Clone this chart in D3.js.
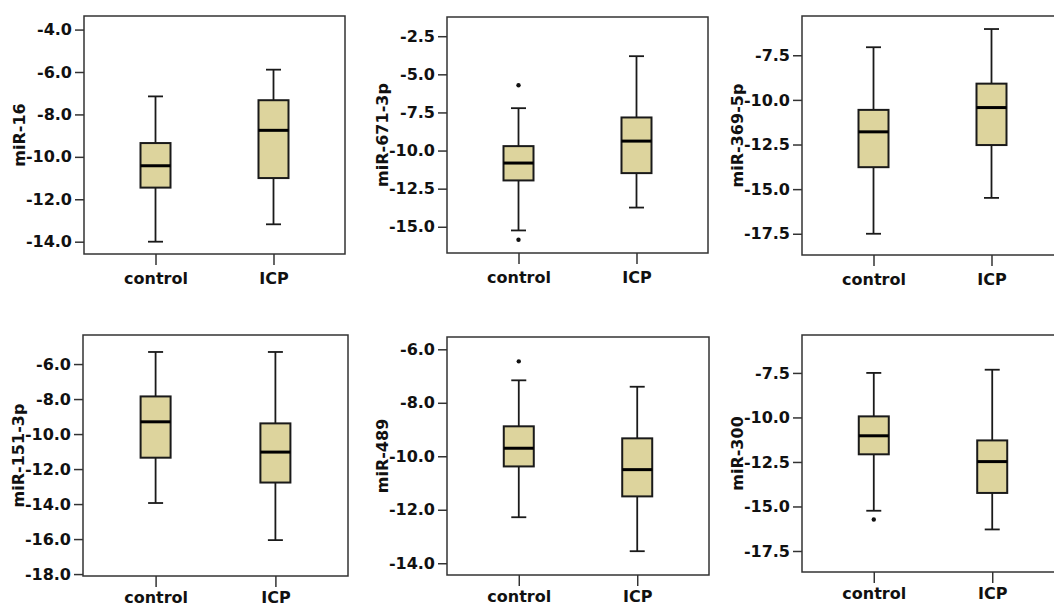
<!DOCTYPE html>
<html>
<head>
<meta charset="utf-8">
<script src="https://cdn.jsdelivr.net/npm/d3@7"></script>
<style>
  body { margin: 0; background: white; }
  svg { display: block; }
  text { font-family: "DejaVu Sans", "Liberation Sans", Arial, sans-serif; font-weight: bold; fill: #111; }
</style>
</head>
<body>
<svg id="svg1"></svg>
<script>
// data
var groups = ["control", "ICP"];
var mirnas = ["miR-16", "miR-671-3p", "miR-369-5p", "miR-151-3p", "miR-489", "miR-300"];

// [lower whisker, Q1, median, Q3, upper whisker]
var controlStats = [
  [-14.0, -11.45, -10.42, -9.35, -7.15],
  [-15.24, -11.96, -10.82, -9.71, -7.22],
  [-17.5, -13.77, -11.79, -10.56, -7.05],
  [-13.94, -11.35, -9.3, -7.85, -5.31],
  [-12.28, -10.38, -9.70, -8.88, -7.16],
  [-15.24, -12.07, -11.03, -9.94, -7.5]
];
var icpStats = [
  [-13.18, -11.0, -8.75, -7.33, -5.89],
  [-13.74, -11.48, -9.38, -7.83, -3.81],
  [-15.49, -12.53, -10.43, -9.09, -6.03],
  [-16.06, -12.77, -11.03, -9.39, -5.31],
  [-13.55, -11.5, -10.5, -9.33, -7.40],
  [-16.29, -14.24, -12.48, -11.29, -7.32]
];
var controlOutliers = [[], [-5.72, -15.85], [], [], [-6.45], [-15.73]];
var icpOutliers = [[], [], [], [], [], []];

var yTicks = [
  [-4, -6, -8, -10, -12, -14],
  [-2.5, -5, -7.5, -10, -12.5, -15],
  [-7.5, -10, -12.5, -15, -17.5],
  [-6, -8, -10, -12, -14, -16, -18],
  [-6, -8, -10, -12, -14],
  [-7.5, -10, -12.5, -15, -17.5]
];
var yDomains = [
  [-14.58, -3.36],
  [-16.72, -1.24],
  [-18.69, -5.3],
  [-18.11, -4.34],
  [-14.44, -5.54],
  [-18.68, -5.37]
];

// panel frames: x, y, w, h
var frames = [
  [84, 16, 261, 238],
  [447, 17, 261, 236],
  [802, 16, 261, 239],
  [83, 335, 265, 241],
  [447, 337, 262, 238],
  [802, 335, 262, 237]
];

var svg = d3.select("#svg1")
    .attr("width", 1054)
    .attr("height", 608);

var boxW = 30, capW = 15;
var fillCol = "#ddd49d", lineCol = "#1a1a1a";

mirnas.forEach(function(name, i) {
  var f = frames[i];
  var g = svg.append("g").attr("transform", `translate(${f[0]},${f[1]})`);

  var x = d3.scalePoint().domain(groups).range([0, f[2]]).padding(0.606);
  var y = d3.scaleLinear().domain(yDomains[i]).range([f[3], 0]);

  // frame
  g.append("rect")
      .attr("width", f[2])
      .attr("height", f[3])
      .attr("fill", "none")
      .attr("stroke", "#333")
      .attr("stroke-width", 1.5);

  // y axis
  var ya = g.append("g")
      .call(d3.axisLeft(y).tickValues(yTicks[i]).tickSize(9).tickPadding(3).tickFormat(d => d.toFixed(1)));
  ya.select(".domain").remove();
  ya.selectAll("line").attr("stroke", "#333").attr("stroke-width", 1.5);
  ya.selectAll("text").attr("font-size", 16).attr("fill", "#111");

  // x axis (bottom row labels pulled up a touch so they stay inside the page)
  var xa = g.append("g")
      .attr("transform", `translate(0,${f[3]})`)
      .call(d3.axisBottom(x).tickSize(11).tickPadding(f[1] > 300 ? 5 : 8));
  xa.select(".domain").remove();
  xa.selectAll("line").attr("stroke", "#333").attr("stroke-width", 1.5);
  xa.selectAll("text").attr("font-size", 16).attr("fill", "#111");

  // y title
  g.append("text")
      .attr("transform", `translate(-59,${f[3] / 2}) rotate(-90)`)
      .attr("text-anchor", "middle")
      .attr("font-size", 16)
      .text(name);

  var stats = [controlStats[i], icpStats[i]];
  var outs = [controlOutliers[i], icpOutliers[i]];

  groups.forEach(function(grp, k) {
    var s = stats[k];
    var cx = x(grp);
    var b = g.append("g");
    // whiskers
    b.append("line").attr("x1", cx).attr("x2", cx).attr("y1", y(s[4])).attr("y2", y(s[3]))
        .attr("stroke", lineCol).attr("stroke-width", 1.8);
    b.append("line").attr("x1", cx).attr("x2", cx).attr("y1", y(s[1])).attr("y2", y(s[0]))
        .attr("stroke", lineCol).attr("stroke-width", 1.8);
    b.selectAll(".cap").data([s[0], s[4]]).join("line")
        .attr("x1", cx - capW / 2).attr("x2", cx + capW / 2)
        .attr("y1", d => y(d)).attr("y2", d => y(d))
        .attr("stroke", lineCol).attr("stroke-width", 1.8);
    // box
    b.append("rect")
        .attr("x", cx - boxW / 2)
        .attr("y", y(s[3]))
        .attr("width", boxW)
        .attr("height", y(s[1]) - y(s[3]))
        .attr("fill", fillCol)
        .attr("stroke", lineCol)
        .attr("stroke-width", 2);
    // median
    b.append("line").attr("x1", cx - boxW / 2).attr("x2", cx + boxW / 2)
        .attr("y1", y(s[2])).attr("y2", y(s[2]))
        .attr("stroke", "#000").attr("stroke-width", 3);
    // outliers
    b.selectAll("circle").data(outs[k]).join("circle")
        .attr("cx", cx).attr("cy", d => y(d)).attr("r", 2.2)
        .attr("fill", "#111");
  });
});
</script>
</body>
</html>
